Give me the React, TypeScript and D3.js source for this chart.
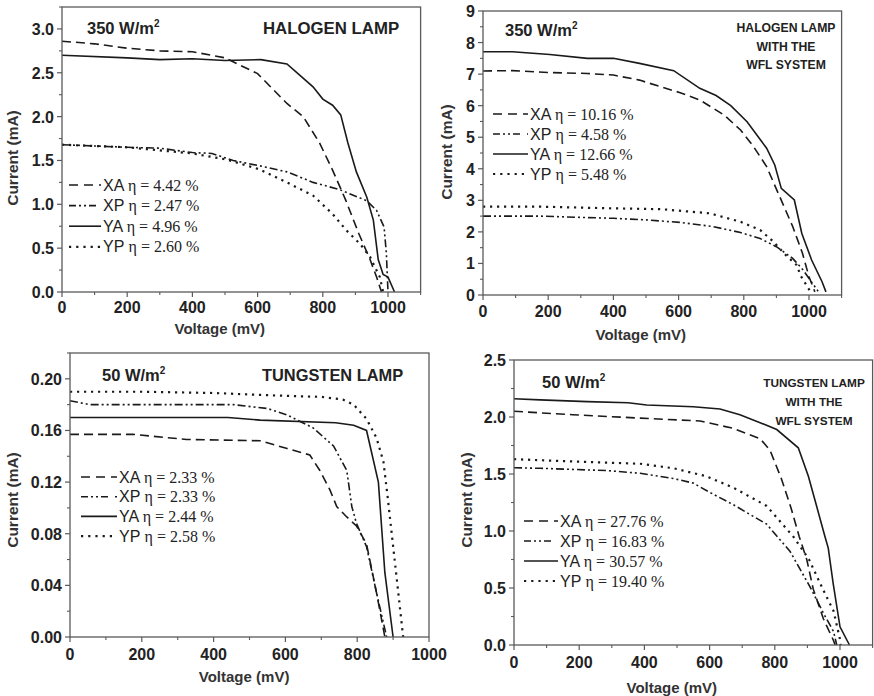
import React from "react";
import * as d3 from "d3";

type Pt = [number, number];

// ---- Halogen lamp, 350 W/m2 ----
const halXA: Pt[] = [[0,2.86],[100,2.83],[200,2.78],[300,2.75],[400,2.74],[500,2.67],[600,2.49],[690,2.15],[740,2.0],[790,1.70],[830,1.39],[870,1.05],[910,0.67],[945,0.37],[965,0.17],[980,0]];
const halXP: Pt[] = [[0,1.68],[200,1.65],[300,1.64],[400,1.59],[460,1.58],[525,1.50],[605,1.44],[690,1.37],[770,1.25],[850,1.17],[935,1.04],[965,0.93],[988,0.74],[995,0.44],[1000,0]];
const halYA: Pt[] = [[0,2.70],[200,2.67],[300,2.65],[400,2.66],[500,2.64],[610,2.65],[690,2.60],[730,2.47],[770,2.34],[800,2.20],[830,2.13],[855,2.02],[877,1.70],[903,1.37],[935,1.08],[955,0.82],[970,0.37],[985,0.20],[1000,0.17],[1020,0]];
const halYP: Pt[] = [[0,1.68],[200,1.65],[400,1.58],[505,1.51],[605,1.40],[690,1.25],[770,1.10],[830,0.89],[873,0.70],[914,0.55],[945,0.40],[975,0.17],[985,0]];
const halEta = ["4.42", "2.47", "4.96", "2.60"];

// ---- Halogen lamp with the WFL system ----
const halWflXA: Pt[] = [[0,7.10],[90,7.11],[205,7.05],[320,7.02],[400,6.97],[480,6.81],[545,6.60],[605,6.41],[665,6.18],[740,5.70],[790,5.23],[830,4.70],[870,4.07],[910,3.12],[950,2.17],[980,1.32],[1000,0.58],[1018,0.10]];
const halWflXP: Pt[] = [[0,2.50],[175,2.50],[300,2.46],[400,2.43],[500,2.38],[605,2.30],[705,2.17],[790,1.98],[850,1.79],[900,1.53],[950,1.16],[982,0.79],[1005,0.45],[1028,0.12]];
const halWflYA: Pt[] = [[0,7.71],[90,7.71],[205,7.62],[320,7.50],[400,7.50],[480,7.34],[585,7.11],[665,6.55],[715,6.32],[760,6.00],[810,5.49],[870,4.65],[895,4.12],[915,3.38],[955,3.01],[978,1.95],[1008,1.11],[1040,0.42],[1052,0.10]];
const halWflYP: Pt[] = [[0,2.80],[175,2.80],[380,2.75],[545,2.72],[695,2.59],[790,2.32],[850,2.06],[890,1.70],[930,1.25],[962,0.95],[975,0.60],[998,0.21],[1005,0.10]];
const halWflEta = ["10.16", "4.58", "12.66", "5.48"];

// ---- Tungsten lamp, 50 W/m2 ----
const tunXA: Pt[] = [[0,0.157],[175,0.157],[325,0.153],[530,0.152],[605,0.146],[668,0.141],[696,0.129],[724,0.114],[743,0.101],[771,0.093],[798,0.086],[826,0.072],[854,0.034],[877,0]];
const tunXP: Pt[] = [[0,0.183],[56,0.180],[250,0.180],[455,0.180],[550,0.177],[605,0.172],[677,0.162],[734,0.148],[771,0.129],[785,0.101],[798,0.088],[826,0.070],[854,0.034],[882,0]];
const tunYA: Pt[] = [[0,0.170],[440,0.170],[530,0.168],[740,0.166],[790,0.164],[826,0.160],[859,0.120],[877,0.050],[900,0]];
const tunYP: Pt[] = [[0,0.190],[200,0.190],[400,0.189],[580,0.187],[700,0.186],[760,0.184],[790,0.180],[826,0.169],[854,0.154],[873,0.136],[885,0.108],[901,0.068],[915,0.033],[928,0]];
const tunEta = ["2.33", "2.33", "2.44", "2.58"];

// ---- Tungsten lamp with the WFL system ----
const tunWflXA: Pt[] = [[0,2.05],[180,2.02],[387,1.99],[571,1.965],[673,1.90],[755,1.81],[785,1.71],[820,1.46],[850,1.20],[875,0.95],[898,0.75],[918,0.49],[949,0.23],[980,0.04],[985,0]];
const tunWflXP: Pt[] = [[0,1.555],[80,1.55],[285,1.53],[387,1.506],[490,1.46],[550,1.42],[600,1.34],[673,1.23],[775,1.06],[847,0.82],[908,0.51],[949,0.28],[980,0.12],[990,0]];
const tunWflYA: Pt[] = [[0,2.16],[80,2.15],[225,2.135],[350,2.125],[407,2.105],[550,2.09],[632,2.07],[693,2.02],[755,1.95],[806,1.89],[872,1.73],[903,1.48],[929,1.21],[954,0.95],[964,0.85],[979,0.54],[1000,0.16],[1029,0]];
const tunWflYP: Pt[] = [[0,1.63],[180,1.61],[387,1.59],[490,1.55],[590,1.48],[673,1.38],[775,1.22],[857,0.95],[905,0.75],[949,0.48],[980,0.30],[1000,0.05],[1002,0]];
const tunWflEta = ["27.76", "16.83", "30.57", "19.40"];

const seriesNames = ["XA", "XP", "YA", "YP"];
const dashes = ["9,5", "8,3,2,3,2,3", "", "2.2,4.8"];

const SANS = "'Liberation Sans', Arial, sans-serif";
const SERIF = "'Liberation Serif', 'Times New Roman', serif";
const INK = "#1a1a1a";
const FRAME = "#5a5a5a";

interface PanelProps {
  left: number; top: number; width: number; height: number;
  xMax: number; yMax: number;
  xMajor: number[]; xMinor: number[];
  yMajor: number[]; yMinor: number[];
  yFmt: (v: number) => string;
  series: Pt[][];
  eta: string[];
  legend: { x: number; y: number; w: number; step: number };
  irr: { text: string; x: number; y: number };
  lamp: { lines: string[]; x: number; y: number; size: number; step: number; anchor: "start" | "middle" };
  yTitle: { x: number; y: number };
  xTitleY: number;
  xLabelY: number;
}

function Panel(p: PanelProps) {
  const x = d3.scaleLinear().domain([0, p.xMax]).range([p.left, p.left + p.width]);
  const y = d3.scaleLinear().domain([0, p.yMax]).range([p.top + p.height, p.top]);
  const line = d3.line<Pt>().x((d) => x(d[0])).y((d) => y(d[1]));
  const bottom = p.top + p.height;
  return (
    <g>
      {p.series.map((s, i) => (
        <path key={i} d={line(s) || ""} fill="none" stroke={INK}
          strokeWidth={i === 3 ? 2.2 : 1.6} strokeDasharray={dashes[i] || undefined} />
      ))}
      <rect x={p.left} y={p.top} width={p.width} height={p.height} fill="none" stroke={FRAME} strokeWidth={1.3} />
      {p.xMinor.map((v) => (
        <line key={"xm" + v} x1={x(v)} x2={x(v)} y1={bottom} y2={bottom + 3} stroke={FRAME} strokeWidth={1.1} />
      ))}
      {p.xMajor.map((v) => (
        <g key={"xM" + v}>
          <line x1={x(v)} x2={x(v)} y1={bottom} y2={bottom + 5} stroke={FRAME} strokeWidth={1.2} />
          <text x={x(v)} y={p.xLabelY} textAnchor="middle" fontFamily={SANS} fontWeight="bold" fontSize={16} fill="#222">{v}</text>
        </g>
      ))}
      {p.yMinor.map((v) => (
        <line key={"ym" + v} x1={p.left - 3} x2={p.left} y1={y(v)} y2={y(v)} stroke={FRAME} strokeWidth={1.1} />
      ))}
      {p.yMajor.map((v) => (
        <g key={"yM" + v}>
          <line x1={p.left - 5} x2={p.left} y1={y(v)} y2={y(v)} stroke={FRAME} strokeWidth={1.2} />
          <text x={p.left - 8} y={y(v) + 6} textAnchor="end" fontFamily={SANS} fontWeight="bold" fontSize={16} fill="#222">{p.yFmt(v)}</text>
        </g>
      ))}
      <text x={p.left + p.width * (p.xMax === 1000 ? 0.485 : 0.44)} y={p.xTitleY} textAnchor="middle" fontFamily={SANS} fontWeight="bold" fontSize={15} fill="#333">Voltage (mV)</text>
      <text transform={`translate(${p.yTitle.x},${p.yTitle.y}) rotate(-90)`} textAnchor="middle" fontFamily={SANS} fontWeight="bold" fontSize={15.5} fill="#333">Current (mA)</text>
      <text x={p.irr.x} y={p.irr.y} fontFamily={SANS} fontWeight="bold" fontSize={16.5} fill="#222">
        {p.irr.text}
        <tspan fontSize={10} dy={-7}>2</tspan>
      </text>
      {p.lamp.lines.map((t, i) => (
        <text key={t} x={p.lamp.x} y={p.lamp.y + i * p.lamp.step} textAnchor={p.lamp.anchor}
          fontFamily={SANS} fontWeight="bold" fontSize={p.lamp.size} fill="#222">{t}</text>
      ))}
      {seriesNames.map((n, i) => {
        const ly = p.legend.y + i * p.legend.step;
        return (
          <g key={n}>
            <line x1={p.legend.x} x2={p.legend.x + p.legend.w} y1={ly} y2={ly} stroke={INK}
              strokeWidth={i === 3 ? 2.2 : 1.6}
              strokeDasharray={i === 0 ? "9,6" : i === 1 ? "7,3,2,3,2,3,7" : i === 3 ? "2.2,5" : undefined} />
            <text x={p.legend.x + p.legend.w + 2} y={ly + 5.5} fontSize={16} fill="#222">
              <tspan fontFamily={SANS}>{n} </tspan>
              <tspan fontFamily={SERIF}>η = {p.eta[i]} %</tspan>
            </text>
          </g>
        );
      })}
    </g>
  );
}

const range = (a: number, b: number, s: number) => d3.range(a, b + s / 2, s).map((v) => +v.toFixed(4));

export default function App() {
  return (
    <svg width={874} height={696} style={{ position: "absolute", left: 0, top: 0, background: "#fff" }}>
      <Panel left={62} top={7} width={358.6} height={285} xMax={1100} yMax={3.25}
        xMajor={range(0, 1000, 200)} xMinor={range(100, 1100, 200)}
        yMajor={range(0, 3, 0.5)} yMinor={range(0.25, 3.25, 0.5)}
        yFmt={(v) => v.toFixed(1)}
        series={[halXA, halXP, halYA, halYP]} eta={halEta}
        legend={{ x: 69, y: 185, w: 32, step: 20.6 }}
        irr={{ text: "350 W/m", x: 87, y: 34 }}
        lamp={{ lines: ["HALOGEN LAMP"], x: 263, y: 34, size: 16.8, step: 0, anchor: "start" }}
        yTitle={{ x: 18, y: 158 }} xTitleY={334} xLabelY={313} />
      <Panel left={483} top={11} width={358.6} height={284} xMax={1100} yMax={9}
        xMajor={range(0, 1000, 200)} xMinor={range(100, 1100, 200)}
        yMajor={range(0, 9, 1)} yMinor={range(0.5, 8.5, 1)}
        yFmt={(v) => String(v)}
        series={[halWflXA, halWflXP, halWflYA, halWflYP]} eta={halWflEta}
        legend={{ x: 493, y: 114, w: 35, step: 20 }}
        irr={{ text: "350 W/m", x: 505, y: 36 }}
        lamp={{ lines: ["HALOGEN LAMP", "WITH THE", "WFL SYSTEM"], x: 786, y: 32, size: 12.2, step: 18.5, anchor: "middle" }}
        yTitle={{ x: 452, y: 152 }} xTitleY={340} xLabelY={317} />
      <Panel left={70} top={353} width={359} height={284} xMax={1000} yMax={0.22}
        xMajor={range(0, 1000, 200)} xMinor={range(100, 900, 200)}
        yMajor={range(0, 0.2, 0.04)} yMinor={range(0.02, 0.22, 0.04)}
        yFmt={(v) => v.toFixed(2)}
        series={[tunXA, tunXP, tunYA, tunYP]} eta={tunEta}
        legend={{ x: 81, y: 477, w: 36, step: 19.7 }}
        irr={{ text: "50 W/m", x: 102, y: 381 }}
        lamp={{ lines: ["TUNGSTEN LAMP"], x: 262, y: 381, size: 16.4, step: 0, anchor: "start" }}
        yTitle={{ x: 18, y: 500 }} xTitleY={682} xLabelY={660} />
      <Panel left={514} top={360} width={358.6} height={285} xMax={1100} yMax={2.5}
        xMajor={range(0, 1000, 200)} xMinor={range(100, 1100, 200)}
        yMajor={range(0, 2.5, 0.5)} yMinor={range(0.25, 2.25, 0.5)}
        yFmt={(v) => v.toFixed(1)}
        series={[tunWflXA, tunWflXP, tunWflYA, tunWflYP]} eta={tunWflEta}
        legend={{ x: 524, y: 521, w: 34, step: 20 }}
        irr={{ text: "50 W/m", x: 542, y: 388 }}
        lamp={{ lines: ["TUNGSTEN LAMP", "WITH THE", "WFL SYSTEM"], x: 814, y: 387, size: 11.8, step: 19, anchor: "middle" }}
        yTitle={{ x: 472, y: 500 }} xTitleY={693} xLabelY={668} />
    </svg>
  );
}
